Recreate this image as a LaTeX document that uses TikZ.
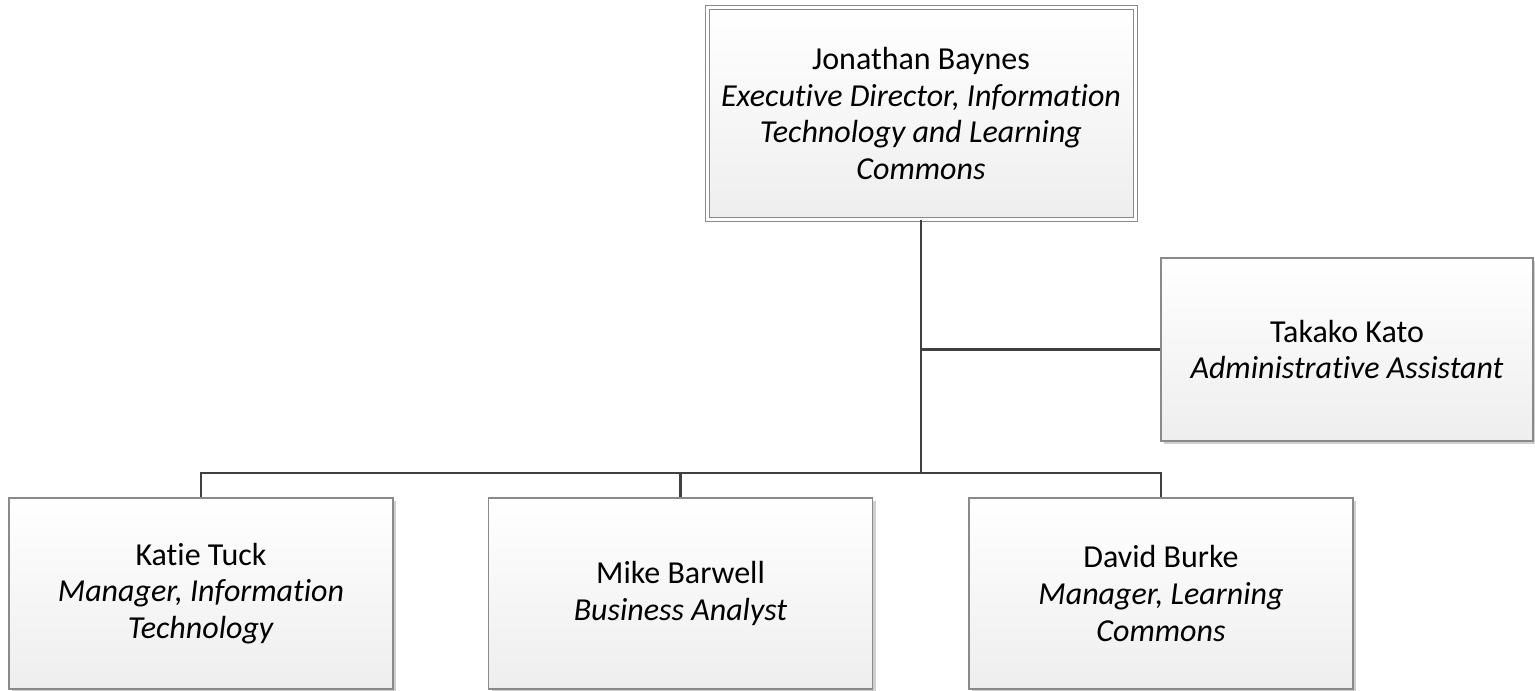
\documentclass[tikz,border=0pt]{standalone}
\usepackage{fontspec}
\setmainfont[Ligatures=NoCommon]{Carlito}
\usetikzlibrary{shadows}
\definecolor{boxline}{HTML}{8A8A8A}
\definecolor{conn}{HTML}{404040}
\definecolor{shadowc}{HTML}{D0D0D0}
\definecolor{boxbot}{HTML}{EEEEEE}
\begin{document}
\begin{tikzpicture}[x=0.5pt,y=-0.5pt,
  person/.style={draw=boxline, line width=0.6pt, top color=white, bottom color=boxbot,
    align=center, font=\fontsize{16}{18.4}\selectfont, inner sep=0pt,
    general shadow={fill=shadowc, shadow xshift=1.5pt, shadow yshift=-1.5pt}},
  lowbox/.style={person, minimum width=192pt, minimum height=95.5pt},
  link/.style={draw=conn, line width=1.2pt}]
\useasboundingbox (0,0) rectangle (1535,690);
\node[person, minimum width=214pt, minimum height=105.5pt, double=white, double distance=1.5pt, line width=0.5pt] (top) at (921,113.5)
  {Jonathan Baynes\\\textit{Executive Director, Information}\\\textit{Technology and Learning}\\\textit{Commons}};
\node[person, minimum width=186pt, minimum height=91.5pt] (tak) at (1347,349.5)
  {Takako Kato\\\textit{Administrative Assistant}};
\node[lowbox] (katie) at (201,593.5) {Katie Tuck\\\textit{Manager, Information}\\\textit{Technology}};
\node[lowbox] (mike) at (680.5,593.5) {Mike Barwell\\\textit{Business Analyst}};
\node[lowbox] (david) at (1161,593.5) {David Burke\\\textit{Manager, Learning}\\\textit{Commons}};
\coordinate (bus) at (921,473);
\draw[link] (top.south) -- (bus);
\draw[link] (top.south |- tak.west) -- (tak.west);
\draw[link] (bus) -| (katie.north);
\draw[link] (bus) -| (mike.north);
\draw[link] (bus) -| (david.north);
\end{tikzpicture}
\end{document}
